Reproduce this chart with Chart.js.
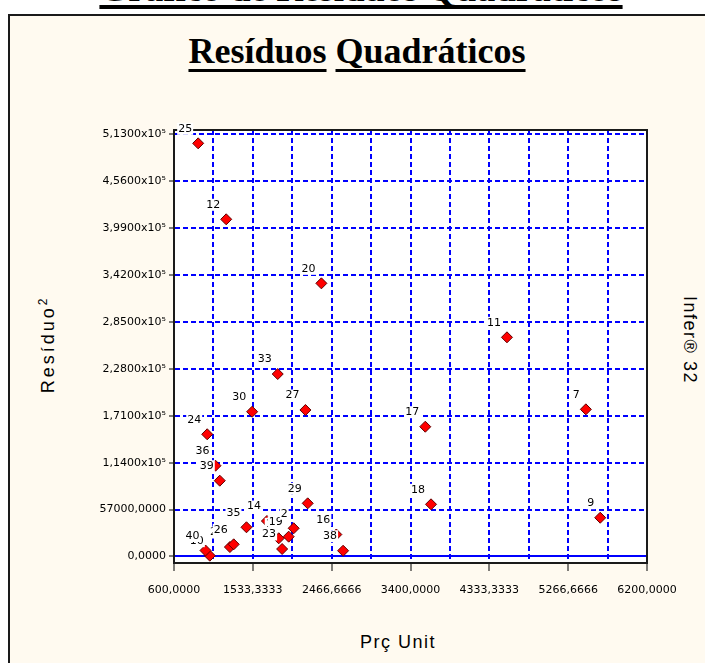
<!DOCTYPE html>
<html lang="pt">
<head>
<meta charset="utf-8">
<title>Gráfico de Resíduos Quadráticos</title>
<script src="https://cdn.jsdelivr.net/npm/chart.js@4.4.0/dist/chart.umd.min.js"></script>
<style>
    html, body {
        margin: 0;
        padding: 0;
        background: #ffffff;
        width: 705px;
        height: 663px;
        overflow: hidden;
    }

    body {
        position: relative;
    }

    #panel {
        position: absolute;
        left: 8px;
        top: 14px;
        width: 760px;
        height: 720px;
        background: #fffaf0;
        border: 2px solid #1a1a1a;
    }

    .title {
        position: absolute;
        white-space: nowrap;
        font-family: "Liberation Serif", "Times New Roman", serif;
        font-weight: bold;
        color: #000000;
        transform: translateX(-50%);
    }

    .title span {
        text-decoration: underline;
        text-decoration-skip-ink: none;
    }

    #pageTitle {
        left: 361px;
        top: -30.5px;
        font-size: 37px;
        line-height: 37px;
        text-decoration: underline;
        text-decoration-thickness: 4px;
        text-underline-offset: 4px;
        text-decoration-skip-ink: none;
    }

    #chartTitle {
        left: 357px;
        top: 33px;
        font-size: 36px;
        line-height: 36px;
    }

    #chartTitle span {
        text-decoration-thickness: 3px;
        text-underline-offset: 6px;
    }

    .axisTitle {
        position: absolute;
        white-space: nowrap;
        font-family: "Liberation Sans", Arial, sans-serif;
        font-size: 18px;
        color: #000000;
    }

    .axisTitle sup {
        font-size: 12px;
        letter-spacing: 0;
    }

    #yTitle {
        left: 47px;
        top: 346px;
        letter-spacing: 3px;
        transform: translate(-50%, -50%) rotate(-90deg);
    }

    #xTitle {
        left: 398px;
        top: 642px;
        letter-spacing: 1.5px;
        transform: translate(-50%, -50%);
    }

    #rightTitle {
        left: 689px;
        top: 340px;
        letter-spacing: 1.5px;
        transform: translate(-50%, -50%) rotate(90deg);
    }

    #chart {
        position: absolute;
        left: 0;
        top: 0;
    }
</style>
</head>
<body>
<div id="pageTitle" class="title">Gráfico de Resíduos Quadráticos</div>
<div id="panel"></div>
<div id="chartTitle" class="title"><span>Resíduos</span> <span>Quadráticos</span></div>
<div id="yTitle" class="axisTitle">Resíduo<sup>2</sup></div>
<div id="xTitle" class="axisTitle">Prç Unit</div>
<div id="rightTitle" class="axisTitle">Infer® 32</div>
<canvas id="chart" width="705" height="663"></canvas>

<script>
// Observation numbers, drawn next to each point (hidden ones first, so later labels cover them)
const obsLabels = [
    "10", "40", "21", "26", "14", "16", "25", "12", "20", "11", "7", "17", "18", "9",
    "33", "30", "27", "24", "36", "39", "29", "35", "1", "19", "2", "23", "38"
];

// Prç Unit (x)
const prcUnit = [
    1024, 973, 1262, 1307, 1700, 2522, 886, 1218, 2345, 4542, 5476, 3575, 3643, 5646,
    1828, 1525, 2156, 993, 1091, 1142, 2183, 1458, 1840, 1958, 2017, 1880, 2602
];

// Resíduo² (y)
const residuo2 = [
    1000, 7300, 11500, 14800, 43100, 26700, 502000, 409700, 331900, 266300, 178800, 157700, 63400, 47100,
    221700, 175900, 178000, 148500, 110300, 92100, 64600, 35500, 22100, 24100, 34300, 9100, 7000
];

// Vertical grid positions; every second one carries a label
const xGridValues = [
    600, 1066.6667, 1533.3333, 2000, 2466.6667, 2933.3333, 3400,
    3866.6667, 4333.3333, 4800, 5266.6667, 5733.3333, 6200
];
const xTickLabels = [
    "600,0000", "1533,3333", "2466,6666", "3400,0000", "4333,3333", "5266,6666", "6200,0000"
];

const yTickValues = [0, 57000, 114000, 171000, 228000, 285000, 342000, 399000, 456000, 513000];
const yTickLabels = [
    "0,0000", "57000,0000", "1,1400x10⁵", "1,7100x10⁵", "2,2800x10⁵",
    "2,8500x10⁵", "3,4200x10⁵", "3,9900x10⁵", "4,5600x10⁵", "5,1300x10⁵"
];

const GRID_BLUE = "#0000ff";
const TICK_FONT = {family: "'DejaVu Sans', sans-serif", size: 11};

/**
 * Paints the plot area white before the scales are drawn.
 */
const plotBackground = {
    id: "plotBackground",
    beforeDraw(chart)
    {
        const {ctx, chartArea} = chart;

        ctx.save();
        ctx.fillStyle = "#ffffff";
        ctx.fillRect(chartArea.left, chartArea.top, chartArea.width, chartArea.height);
        ctx.restore();
    }
};

/**
 * Draws the black frame round the plot area.
 */
const plotFrame = {
    id: "plotFrame",
    beforeDatasetsDraw(chart)
    {
        const {ctx, chartArea} = chart;

        ctx.save();
        ctx.strokeStyle = "#1a1a1a";
        ctx.lineWidth = 2;
        ctx.strokeRect(chartArea.left, chartArea.top, chartArea.width, chartArea.height);
        ctx.restore();
    }
};

/**
 * Writes the observation number up-left of every point, on a white box.
 */
const pointLabels = {
    id: "pointLabels",
    afterDatasetsDraw(chart)
    {
        const ctx  = chart.ctx;
        const meta = chart.getDatasetMeta(0);

        ctx.save();
        ctx.font         = "11px 'DejaVu Sans', sans-serif";
        ctx.textAlign    = "right";
        ctx.textBaseline = "middle";

        meta.data.forEach((point, i) => {
            const text = obsLabels[i];
            const w    = ctx.measureText(text).width;
            const x    = point.x - 6;
            const y    = point.y - 14.5;

            ctx.fillStyle = "#ffffff";
            ctx.fillRect(x - w - 1, y - 6, w + 2, 12);
            ctx.fillStyle = "#000000";
            ctx.fillText(text, x, y);
        });

        ctx.restore();
    }
};

new Chart(document.getElementById("chart"), {
    type: "scatter",
    data: {
        datasets: [{
            data: prcUnit.map((x, i) => ({x: x, y: residuo2[i]})),
            pointStyle: "rectRot",
            pointRadius: 5.5,
            pointHoverRadius: 5.5,
            backgroundColor: "#ff0000",
            borderColor: "#600000",
            borderWidth: 1
        }]
    },
    options: {
        responsive: false,
        animation: false,
        events: [],
        layout: {
            padding: {top: 130, right: 58, bottom: 0, left: 0}
        },
        plugins: {
            legend: {display: false},
            tooltip: {enabled: false},
            title: {display: false}
        },
        scales: {
            x: {
                type: "linear",
                min: 600,
                max: 6200,
                afterBuildTicks: (scale) => {
                    scale.ticks = xGridValues.map(v => ({value: v}));
                },
                afterFit: (scale) => {
                    scale.height = 100;
                },
                ticks: {
                    autoSkip: false,
                    maxRotation: 0,
                    padding: 13,
                    color: "#000000",
                    font: TICK_FONT,
                    callback: (value, index) => (index % 2 === 0 ? xTickLabels[index / 2] : "")
                },
                grid: {
                    color: GRID_BLUE,
                    lineWidth: 2,
                    tickLength: 8,
                    tickWidth: 1,
                    tickColor: (ctx) => (ctx.index % 2 === 0 ? "#000000" : "rgba(0,0,0,0)")
                },
                border: {
                    display: true,
                    color: "#1a1a1a",
                    width: 2,
                    dash: [5, 3]
                }
            },
            y: {
                type: "linear",
                min: -7900,
                max: 518200,
                afterBuildTicks: (scale) => {
                    scale.ticks = yTickValues.map(v => ({value: v}));
                },
                afterFit: (scale) => {
                    scale.width = 174;
                },
                ticks: {
                    autoSkip: false,
                    padding: 3,
                    color: "#000000",
                    font: TICK_FONT,
                    callback: (value, index) => yTickLabels[index]
                },
                grid: {
                    color: GRID_BLUE,
                    lineWidth: 2,
                    tickLength: 5,
                    tickWidth: 1,
                    tickColor: "#000000"
                },
                border: {
                    display: true,
                    color: "#1a1a1a",
                    width: 2,
                    dash: (ctx) => (ctx.tick && ctx.tick.value === 0 ? [] : [5, 3])
                }
            }
        }
    },
    plugins: [plotBackground, plotFrame, pointLabels]
});
</script>
</body>
</html>
